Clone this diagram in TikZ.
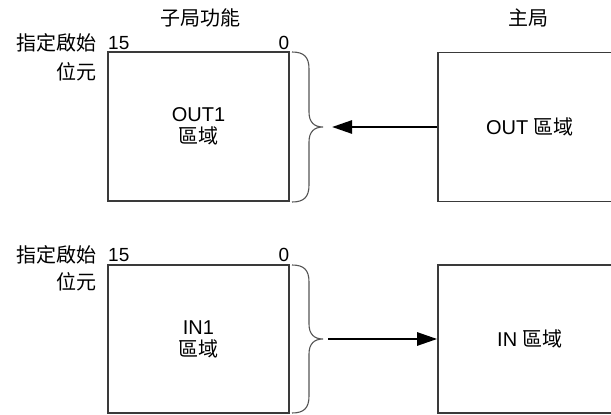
\documentclass[tikz,border=0pt]{standalone}
\usepackage{fontspec}
\setmainfont{Liberation Sans}
\newfontfamily\cjk{Noto Sans CJK TC}
\usetikzlibrary{arrows.meta}
\definecolor{boxline}{HTML}{3A3A3A}
\definecolor{braceline}{HTML}{555555}
\tikzset{
  box/.style={draw=boxline, line width=1.6pt, align=center, inner sep=0pt,
    font=\fontsize{20}{22}\selectfont},
  lbl/.style={inner sep=0pt, font=\fontsize{20}{22}\selectfont},
  num/.style={inner sep=0pt, font=\fontsize{19}{21}\selectfont},
  bracestyle/.style={draw=braceline, line width=1.1pt},
  arr/.style={draw=black, line width=2.6pt, -{Triangle[length=20pt,width=13pt]}},
}
\begin{document}
\begin{tikzpicture}[x=1pt,y=-1pt]
\useasboundingbox (0,0) rectangle (611,415);
% titles
\node[lbl] (t1) at (200,18) {\cjk 子局功能};
\node[lbl] (t2) at (528,18) {\cjk 主局};
% top row
\node[lbl, anchor=east] (a1) at (97,43) {\cjk 指定啟始};
\node[lbl, anchor=east] (a2) at (97,72) {\cjk 位元};
\node[num, anchor=west] (n15a) at (108,43) {15};
\node[num] (n0a) at (284,43) {0};
\node[box, minimum width=181pt, minimum height=149pt] (s1) at (198.5,126.5) {OUT1\\{\cjk 區域}};
\node[box, minimum width=184pt, minimum height=149pt] (m1) at (530,127) {OUT {\cjk 區域}};
\coordinate (b1) at (323,127);
\coordinate (h1) at (332,127);
\draw[bracestyle] (292,52) .. controls (304,52) and (309,57) .. (309,69)
  -- (309,112) .. controls (309,122) and (314,127) .. (b1)
  .. controls (314,127) and (309,132) .. (309,142)
  -- (309,185) .. controls (309,197) and (304,202) .. (292,202);
\draw[arr] (m1.west |- h1) -- (h1);
% bottom row
\node[lbl, anchor=east] (a3) at (97,255) {\cjk 指定啟始};
\node[lbl, anchor=east] (a4) at (97,282) {\cjk 位元};
\node[num, anchor=west] (n15b) at (108,255) {15};
\node[num] (n0b) at (284,255) {0};
\node[box, minimum width=181pt, minimum height=148pt] (s2) at (198.5,339) {IN1\\{\cjk 區域}};
\node[box, minimum width=184pt, minimum height=148pt] (m2) at (530,339) {IN {\cjk 區域}};
\coordinate (b2) at (323,339);
\coordinate (h2) at (328,339);
\draw[bracestyle] (292,265) .. controls (304,265) and (309,270) .. (309,282)
  -- (309,324) .. controls (309,334) and (314,339) .. (b2)
  .. controls (314,339) and (309,344) .. (309,354)
  -- (309,396) .. controls (309,408) and (304,413) .. (292,413);
\draw[arr] (h2) -- (m2.west |- h2);
\end{tikzpicture}
\end{document}
